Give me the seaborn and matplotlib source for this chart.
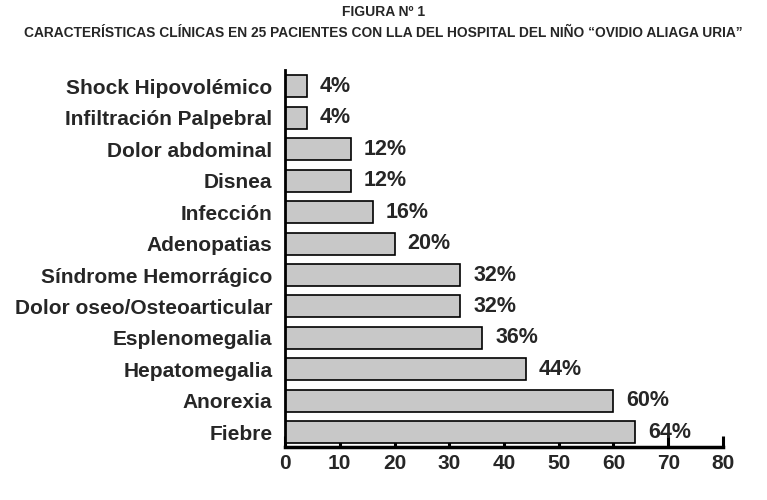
import matplotlib.pyplot as plt
import seaborn as sns
import pandas as pd

# data
sintomas = [
    'Shock Hipovolémico', 'Infiltración Palpebral', 'Dolor abdominal', 'Disnea',
    'Infección', 'Adenopatias', 'Síndrome Hemorrágico', 'Dolor oseo/Osteoarticular',
    'Esplenomegalia', 'Hepatomegalia', 'Anorexia', 'Fiebre',
]
porcentajes = [4, 4, 12, 12, 16, 20, 32, 32, 36, 44, 60, 64]
xticks = [0, 10, 20, 30, 40, 50, 60, 70, 80]

df = pd.DataFrame({'sintoma': sintomas, 'pct': porcentajes})

sns.set_style("white")
plt.rcParams['font.family'] = ['Liberation Sans', 'DejaVu Sans']

fig = plt.figure(figsize=(7.67, 5.0), dpi=100)
ax = fig.add_axes([0.3716, 0.106, 0.571, 0.754])

sns.barplot(data=df, x='pct', y='sintoma', orient='h', color='#c8c8c8',
            edgecolor='black', linewidth=1.2, width=0.7, saturation=1, ax=ax)

# percentage labels right of each bar
for i, v in enumerate(porcentajes):
    ax.text(v + 2.4, i, f'{v}%', va='center', ha='left', fontsize=15.5, fontweight='bold')

ax.set_xlim(0, 80)
ax.set_ylim(11.47, -0.52)
ax.set_xticks(xticks)
ax.set_xlabel('')
ax.set_ylabel('')
ax.tick_params(axis='x', bottom=True, direction='in', length=8, width=2.2,
               color='black', labelsize=15, pad=5)
ax.tick_params(axis='y', left=False, length=0, labelsize=15.0, pad=9)
for lab in ax.get_xticklabels() + ax.get_yticklabels():
    lab.set_fontweight('bold')

ax.spines['top'].set_visible(False)
ax.spines['right'].set_visible(False)
ax.spines['bottom'].set_linewidth(2.5)
ax.spines['left'].set_linewidth(2)
ax.spines['bottom'].set_color('black')
ax.spines['left'].set_color('black')

fig.text(0.5, 0.99, 'FIGURA Nº 1', ha='center', va='top', fontsize=10, fontweight='bold')
fig.text(0.5, 0.948, 'CARACTERÍSTICAS CLÍNICAS EN 25 PACIENTES CON LLA DEL HOSPITAL DEL NIÑO “OVIDIO ALIAGA URIA”',
         ha='center', va='top', fontsize=9.9, fontweight='bold')

fig.savefig('out.png', dpi=100)
